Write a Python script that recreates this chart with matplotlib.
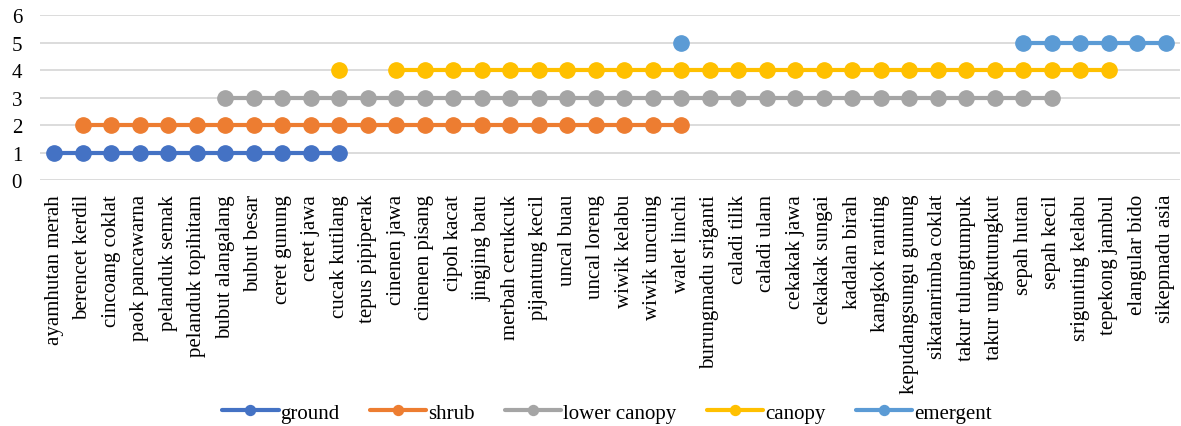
import numpy as np
import matplotlib.pyplot as plt

plt.rcParams['font.family'] = ['Liberation Serif', 'DejaVu Serif']

species = [
    "ayamhutan merah", "berencet kerdil", "cincoang coklat", "paok pancawarna",
    "pelanduk semak", "pelanduk topihitam", "bubut alangalang", "bubut besar",
    "ceret gunung", "ceret jawa", "cucak kutilang", "tepus pipiperak",
    "cinenen jawa", "cinenen pisang", "cipoh kacat", "jingjing batu",
    "merbah cerukcuk", "pijantung kecil", "uncal buau", "uncal loreng",
    "wiwik kelabu", "wiwik uncuing", "walet linchi", "burungmadu sriganti",
    "caladi tilik", "caladi ulam", "cekakak jawa", "cekakak sungai",
    "kadalan birah", "kangkok ranting", "kepudangsungu gunung",
    "sikatanrimba coklat", "takur tulungtumpuk", "takur ungkutungkut",
    "sepah hutan", "sepah kecil", "srigunting kelabu", "tepekong jambul",
    "elangular bido", "sikepmadu asia",
]

# stratum level per species (None = not recorded in that stratum)
N = None
ground = [1, 1, 1, 1, 1, 1, 1, 1, 1, 1, 1] + [N] * 29
shrub = [N] + [2] * 22 + [N] * 17
lower_canopy = [N] * 6 + [3] * 30 + [N] * 4
canopy = [N] * 10 + [4, N] + [4] * 26 + [N] * 2
emergent = [N] * 22 + [5] + [N] * 11 + [5] * 6

series = [
    ("ground", ground, "#4472C4"),
    ("shrub", shrub, "#ED7D31"),
    ("lower canopy", lower_canopy, "#A5A5A5"),
    ("canopy", canopy, "#FFC000"),
    ("emergent", emergent, "#5B9BD5"),
]

fig = plt.figure(figsize=(11.81, 4.27), dpi=100)
ax = fig.add_axes([0.034, 0.576, 0.965, 0.3865])

x = np.arange(len(species))
for name, vals, col in series:
    y = np.array([np.nan if v is None else v for v in vals], dtype=float)
    ax.plot(x, y, color=col, lw=3, marker="o", ms=11, label=name,
            solid_capstyle="round", zorder=3)

ax.set_xlim(-0.5, len(species) - 0.5)
ax.set_ylim(0, 6)
ax.set_yticks(range(0, 7))
ax.grid(axis="y", color="#D9D9D9", lw=1.3)
ax.set_axisbelow(True)
for s in ax.spines.values():
    s.set_visible(False)
ax.tick_params(length=0, labelsize=15)
ax.tick_params(axis="y", pad=13)
ax.tick_params(axis="x", pad=10)
ax.set_xticks(x)
ax.set_xticklabels(species, rotation=90, fontsize=15)

fig.legend(loc="center", bbox_to_anchor=(0.514, 0.031), ncol=5,
           frameon=False, fontsize=15, handlelength=2.7, columnspacing=1.45,
           handletextpad=0.1, markerscale=0.65)

fig.savefig("out.png", dpi=100)
